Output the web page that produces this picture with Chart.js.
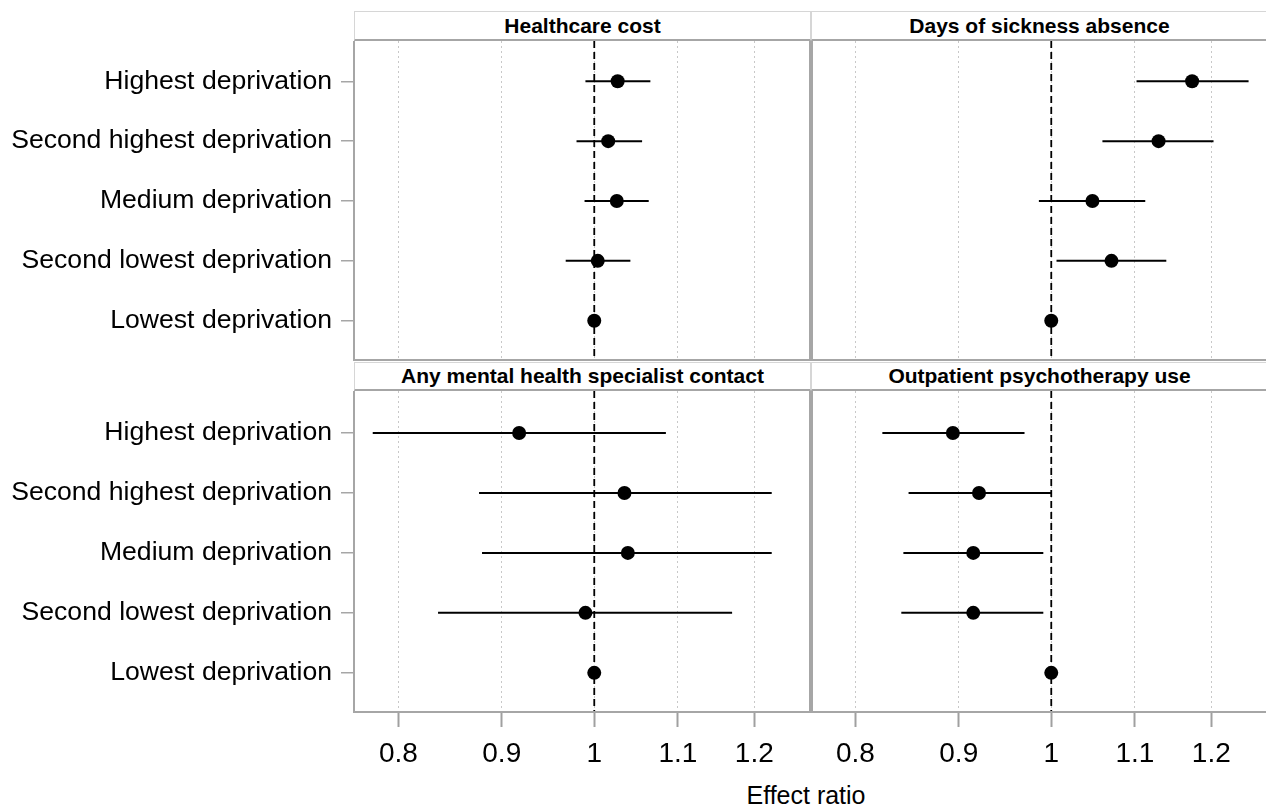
<!DOCTYPE html>
<html>
<head>
<meta charset="utf-8">
<script src="https://cdn.jsdelivr.net/npm/chart.js@4.4.1/dist/chart.umd.min.js"></script>
<style>
html,body{margin:0;padding:0;background:#fff;overflow:hidden;width:1266px;height:808px;}
canvas{position:absolute;}
.hdr{position:absolute;box-sizing:border-box;border:1px solid #d6d6d6;border-bottom:2px solid #a6a6a6;
  font:bold 21px "Liberation Sans",Arial,sans-serif;color:#000;background:#fff;
  display:flex;align-items:center;justify-content:center;white-space:nowrap;}
#xtitle{position:absolute;left:656px;width:300px;top:783px;text-align:center;
  font:25px "Liberation Sans",Arial,sans-serif;line-height:25px;color:#000;}
</style>
</head>
<body>
<div class="hdr" id="h0" style="left:354px;top:11px;width:457px;height:30px;"></div>
<div class="hdr" id="h1" style="left:811px;top:11px;width:457px;height:30px;"></div>
<div class="hdr" id="h2" style="left:354px;top:362px;width:457px;height:29px;"></div>
<div class="hdr" id="h3" style="left:811px;top:362px;width:457px;height:29px;"></div>
<canvas id="c0" width="811" height="320" style="left:0;top:41px;width:811px;height:320px;"></canvas>
<canvas id="c1" width="457" height="320" style="left:811px;top:41px;width:457px;height:320px;"></canvas>
<canvas id="c2" width="811" height="382" style="left:0;top:391px;width:811px;height:382px;"></canvas>
<canvas id="c3" width="457" height="382" style="left:811px;top:391px;width:457px;height:382px;"></canvas>
<div id="xtitle"></div>
<script>
// ---- data ----
const categories = ["Highest deprivation", "Second highest deprivation", "Medium deprivation", "Second lowest deprivation", "Lowest deprivation"];
const panelTitles = ["Healthcare cost", "Days of sickness absence", "Any mental health specialist contact", "Outpatient psychotherapy use"];
const xTickValues = [0.8, 0.9, 1, 1.1, 1.2];
const xAxisTitle = "Effect ratio";
const refValue = 1;

const costEst  = [1.027, 1.016, 1.026, 1.004, 1];
const costLow  = [0.990, 0.980, 0.989, 0.968, null];
const costHigh = [1.066, 1.056, 1.064, 1.042, null];

const sickEst  = [1.174, 1.130, 1.048, 1.071, 1];
const sickLow  = [1.102, 1.060, 0.986, 1.006, null];
const sickHigh = [1.252, 1.203, 1.113, 1.140, null];

const mhEst  = [0.918, 1.035, 1.039, 0.990, 1];
const mhLow  = [0.777, 0.877, 0.880, 0.837, null];
const mhHigh = [1.085, 1.224, 1.224, 1.170, null];

const psyEst  = [0.894, 0.921, 0.915, 0.915, 1];
const psyLow  = [0.825, 0.850, 0.845, 0.843, null];
const psyHigh = [0.970, 1.000, 0.991, 0.991, null];

// ---- layout / style ----
const xMin = 0.7606, xMax = 1.280;
const FONT = "'Liberation Sans', Arial, sans-serif";
const FRAME = '#a6a6a6';

panelTitles.forEach((t, i) => { document.getElementById('h' + i).textContent = t; });
document.getElementById('xtitle').textContent = xAxisTitle;

function framePlugin(side) {
  return {
    id: 'frame',
    afterDraw(chart) {
      const { ctx, chartArea: a } = chart;
      ctx.save();
      ctx.strokeStyle = FRAME;
      ctx.lineWidth = 2;
      ctx.beginPath();
      ctx.moveTo(a.left, a.bottom - 1); ctx.lineTo(a.right, a.bottom - 1);
      if (side === 'left') {
        ctx.moveTo(a.left, a.top); ctx.lineTo(a.left, a.bottom);
        ctx.moveTo(a.right - 1, a.top); ctx.lineTo(a.right - 1, a.bottom);
      } else {
        ctx.moveTo(a.left + 1, a.top); ctx.lineTo(a.left + 1, a.bottom);
      }
      ctx.stroke();
      ctx.restore();
    }
  };
}

function makePanel(id, est, low, high, cfg) {
  const datasets = [];
  datasets.push({
    type: 'scatter',
    data: est.map((v, i) => ({ x: v, y: i })),
    backgroundColor: '#000', borderColor: '#000', borderWidth: 0,
    pointRadius: 7, pointHoverRadius: 7, order: 0
  });
  est.forEach((v, i) => {
    if (low[i] != null && high[i] != null) {
      datasets.push({
        type: 'line',
        data: [{ x: low[i], y: i }, { x: high[i], y: i }],
        borderColor: '#000', borderWidth: 2, pointRadius: 0, order: 1
      });
    }
  });
  datasets.push({
    type: 'line',
    data: [{ x: refValue, y: cfg.yMin }, { x: refValue, y: cfg.yMax }],
    borderColor: '#000', borderWidth: 1.8, borderDash: [7, 4], pointRadius: 0, order: 2
  });

  new Chart(document.getElementById(id), {
    type: 'scatter',
    data: { datasets },
    options: {
      responsive: false, animation: false, events: [],
      layout: { padding: 0, autoPadding: false },
      plugins: { legend: { display: false }, tooltip: { enabled: false } },
      scales: {
        x: {
          type: 'logarithmic', min: xMin, max: xMax, bounds: 'data', position: 'bottom',
          afterBuildTicks: s => { s.ticks = xTickValues.map(v => ({ value: v })); },
          afterFit: s => { s.height = cfg.showX ? 60 : 0; s.paddingLeft = 0; s.paddingRight = 0; },
          ticks: {
            display: cfg.showX, autoSkip: false, maxRotation: 0, padding: 10,
            font: { size: 28, family: FONT }, color: '#000',
            callback: v => String(v)
          },
          grid: {
            color: '#c8c8c8', lineWidth: 1, drawOnChartArea: true,
            drawTicks: cfg.showX, tickLength: 14, tickColor: '#a0a0a0', tickWidth: 2, tickBorderDash: []
          },
          border: { display: false, dash: [2, 3] }
        },
        y: {
          type: 'linear', min: cfg.yMin, max: cfg.yMax, reverse: true, display: cfg.showY,
          afterBuildTicks: s => { s.ticks = categories.map((c, i) => ({ value: i })); },
          afterFit: s => { s.width = cfg.showY ? 354 : 0; s.paddingTop = 0; s.paddingBottom = 0; },
          ticks: {
            autoSkip: false, padding: 9,
            font: { size: 26.6, family: FONT }, color: '#000',
            callback: v => categories[v]
          },
          grid: { drawOnChartArea: false, drawTicks: true, tickLength: 13, color: FRAME, lineWidth: 1.5 },
          border: { display: false }
        }
      }
    },
    plugins: [framePlugin(cfg.side)]
  });
}

makePanel('c0', costEst, costLow, costHigh, { showY: true,  showX: false, yMin: -0.673, yMax: 4.673, side: 'left' });
makePanel('c1', sickEst, sickLow, sickHigh, { showY: false, showX: false, yMin: -0.673, yMax: 4.673, side: 'right' });
makePanel('c2', mhEst,   mhLow,   mhHigh,   { showY: true,  showX: true,  yMin: -0.70,  yMax: 4.67,  side: 'left' });
makePanel('c3', psyEst,  psyLow,  psyHigh,  { showY: false, showX: true,  yMin: -0.70,  yMax: 4.67,  side: 'right' });
</script>
</body>
</html>
